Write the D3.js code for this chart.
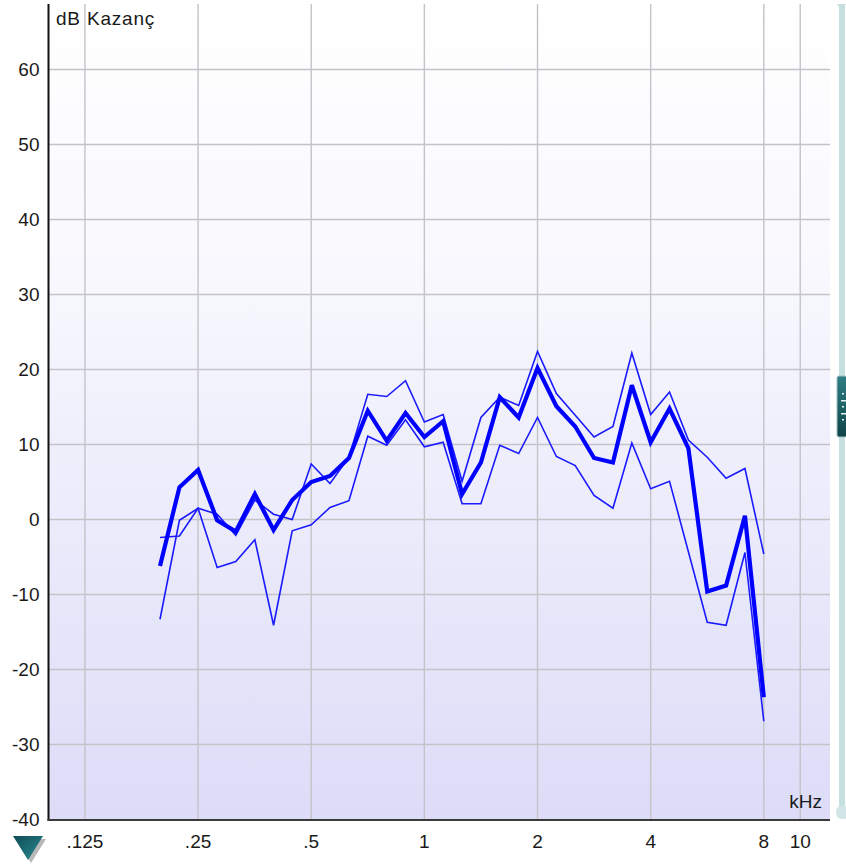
<!DOCTYPE html>
<html>
<head>
<meta charset="utf-8">
<script src="https://cdn.jsdelivr.net/npm/d3@7/dist/d3.min.js"></script>
<style>
  html, body { margin: 0; padding: 0; background: #ffffff; }
  svg { display: block; }
  text { font-family: "Liberation Sans", Arial, sans-serif; fill: #1a1a1a; }
</style>
</head>
<body>
<svg id="chart" width="846" height="866"></svg>
<script>
// Frequencies (kHz), 1/6-octave steps from 200 Hz to 8 kHz
const freqs = [0.198, 0.223, 0.25, 0.281, 0.315, 0.354, 0.397, 0.445, 0.5, 0.561,
  0.63, 0.707, 0.794, 0.891, 1.0, 1.122, 1.26, 1.414, 1.587, 1.782, 2.0, 2.245,
  2.52, 2.828, 3.175, 3.564, 4.0, 4.49, 5.04, 5.657, 6.35, 7.127, 8.0];

// Gain curves (dB)
const gainMedium = [-6.2, 4.3, 6.6, -0.1, -1.6, 3.4, -1.4, 2.6, 5.0, 5.8, 8.2, 14.5,
  10.5, 14.2, 11.0, 13.1, 3.4, 7.6, 16.3, 13.6, 20.2, 15.1, 12.4, 8.2, 7.6, 17.9,
  10.3, 14.8, 9.5, -9.6, -8.8, 0.5, -23.7];
const gainSoft = [-2.4, -2.2, 1.5, 0.7, -2.1, 2.6, 0.7, 0.0, 7.4, 4.8, 8.3, 16.7,
  16.4, 18.5, 13.0, 14.0, 5.1, 13.6, 16.3, 15.2, 22.4, 16.8, 13.9, 11.0, 12.4, 22.2,
  14.0, 17.0, 10.6, 8.3, 5.5, 6.8, -4.6];
const gainLoud = [-13.3, -0.1, 1.5, -6.4, -5.6, -2.7, -14.1, -1.5, -0.7, 1.6, 2.5, 11.1,
  9.9, 13.3, 9.7, 10.3, 2.1, 2.1, 9.9, 8.8, 13.6, 8.4, 7.2, 3.2, 1.5, 10.2, 4.1,
  5.1, -4.3, -13.7, -14.1, -4.4, -26.9];

// Axis ticks
const freqTicks = [0.125, 0.25, 0.5, 1, 2, 4, 8, 10];
const freqTickLabels = [".125", ".25", ".5", "1", "2", "4", "8", "10"];
const gainTicks = [60, 50, 40, 30, 20, 10, 0, -10, -20, -30, -40];

const svg = d3.select("#chart");
const plotLeft = 48.5, plotRight = 830, plotTop = 4, plotBottom = 820;

const x = d3.scaleLog().domain([0.1, 12]).range([plotLeft, plotRight]);
const y = d3.scaleLinear().domain([-40, 70]).range([819.5, -5.5]);

// Background gradient
const defs = svg.append("defs");
const bg = defs.append("linearGradient").attr("id", "bg")
  .attr("x1", 0).attr("y1", 0).attr("x2", 0).attr("y2", 1);
bg.append("stop").attr("offset", "0%").attr("stop-color", "#ffffff");
bg.append("stop").attr("offset", "30%").attr("stop-color", "#f9f9fe");
bg.append("stop").attr("offset", "100%").attr("stop-color", "#dcdcf8");

const tri = defs.append("linearGradient").attr("id", "tri")
  .attr("x1", 0).attr("y1", 0).attr("x2", 1).attr("y2", 1);
tri.append("stop").attr("offset", "0%").attr("stop-color", "#0f4d55");
tri.append("stop").attr("offset", "100%").attr("stop-color", "#2b8a91");

const knob = defs.append("linearGradient").attr("id", "knob")
  .attr("x1", 0).attr("y1", 0).attr("x2", 0).attr("y2", 1);
knob.append("stop").attr("offset", "0%").attr("stop-color", "#2f7f84");
knob.append("stop").attr("offset", "100%").attr("stop-color", "#0f4448");

defs.append("clipPath").attr("id", "plotClip")
  .append("rect").attr("x", plotLeft).attr("y", plotTop)
  .attr("width", plotRight - plotLeft).attr("height", plotBottom - plotTop);

svg.append("rect")
  .attr("x", plotLeft).attr("y", plotTop)
  .attr("width", plotRight - plotLeft).attr("height", plotBottom - plotTop)
  .attr("fill", "url(#bg)");

// Grid
const grid = svg.append("g").attr("stroke", "#c3c3c8").attr("stroke-width", 1.4);
grid.selectAll("line.v").data(freqTicks).join("line")
  .attr("x1", d => x(d)).attr("x2", d => x(d))
  .attr("y1", plotTop).attr("y2", plotBottom);
grid.selectAll("line.h").data(gainTicks.filter(d => d > -40)).join("line")
  .attr("x1", plotLeft).attr("x2", plotRight)
  .attr("y1", d => y(d)).attr("y2", d => y(d));

// Axes lines
svg.append("line").attr("x1", plotLeft).attr("x2", plotLeft)
  .attr("y1", plotTop).attr("y2", plotBottom + 1)
  .attr("stroke", "#111").attr("stroke-width", 2);
svg.append("line").attr("x1", plotLeft - 1).attr("x2", plotRight)
  .attr("y1", plotBottom).attr("y2", plotBottom)
  .attr("stroke", "#3a3a3a").attr("stroke-width", 2);

// Y tick labels
svg.append("g").selectAll("text").data(gainTicks).join("text")
  .attr("x", 39.5).attr("y", d => y(d)).attr("dy", "0.35em")
  .attr("text-anchor", "end").attr("font-size", 19)
  .text(d => d);

// X tick labels
svg.append("g").selectAll("text").data(freqTicks).join("text")
  .attr("x", d => x(d)).attr("y", 848)
  .attr("text-anchor", "middle").attr("font-size", 19)
  .text((d, i) => freqTickLabels[i]);

svg.append("text").attr("x", 56).attr("y", 25)
  .attr("font-size", 19).attr("letter-spacing", 0.8).text("dB Kazanç");
svg.append("text").attr("x", 822).attr("y", 808)
  .attr("text-anchor", "end").attr("font-size", 19).text("kHz");

// Curves
const line = d3.line().x((d, i) => x(freqs[i])).y(d => y(d));
const curves = svg.append("g").attr("clip-path", "url(#plotClip)").attr("fill", "none");
[gainSoft, gainLoud].forEach(s => {
  curves.append("path").datum(s).attr("d", line)
    .attr("stroke", "#1a1aff").attr("stroke-width", 1.6)
    .attr("stroke-linejoin", "miter");
});
curves.append("path").datum(gainMedium).attr("d", line)
  .attr("stroke", "#0000ff").attr("stroke-width", 4.2)
  .attr("stroke-linejoin", "miter").attr("stroke-miterlimit", 3);

// Level slider on the right
const slider = svg.append("g");
slider.append("rect").attr("x", 839).attr("y", 6).attr("width", 6).attr("height", 808)
  .attr("fill", "#c6e0e1");
slider.append("path").attr("d", "M837,4 L846,4 L842,11 Z").attr("fill", "#c6e0e1");
slider.append("path").attr("d", "M836,812 Q836,806 842,806 L846,806 L846,819 L842,819 Q836,819 836,812 Z")
  .attr("fill", "#d2e6e7");
slider.append("rect").attr("x", 837).attr("y", 376).attr("width", 10).attr("height", 61)
  .attr("rx", 2).attr("fill", "url(#knob)").attr("stroke", "#9fc2c4").attr("stroke-width", 1);
[393, 400, 406, 413, 419].forEach((yy, i) => {
  slider.append("rect").attr("x", i % 2 ? 841 : 842).attr("y", yy)
    .attr("width", i % 2 ? 5 : 2).attr("height", 1.5).attr("fill", "#e8f4f4");
});

// Down-arrow marker, bottom left
svg.append("path").attr("d", "M16,839 L46,839 L31,863 Z").attr("fill", "#b8b8b8");
svg.append("path").attr("d", "M13,836 L43,836 L28,860 Z").attr("fill", "url(#tri)");
</script>
</body>
</html>
